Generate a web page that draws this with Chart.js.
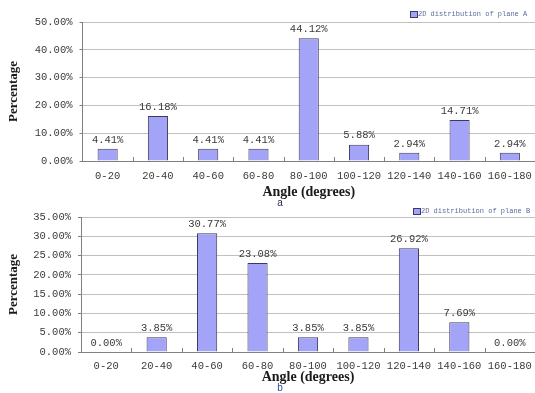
<!DOCTYPE html>
<html>
<head>
<meta charset="utf-8">
<script src="https://cdn.jsdelivr.net/npm/chart.js@4/dist/chart.umd.min.js"></script>
<style>
  html, body { margin: 0; padding: 0; background: #ffffff; }
  #wrap { position: relative; width: 535px; height: 393px; overflow: hidden; }
  canvas { position: absolute; left: 0; }
  #chartA { top: 0; }
  #chartB { top: 200px; }
</style>
</head>
<body>
<div id="wrap">
  <canvas id="chartA" width="535" height="208"></canvas>
  <canvas id="chartB" width="535" height="193"></canvas>
</div>
<script>
// Angle bins shared by both histograms
const categories = ['0-20', '20-40', '40-60', '60-80', '80-100', '100-120', '120-140', '140-160', '160-180'];

// Percentage of joints per angle bin
const planeA = [4.41, 16.18, 4.41, 4.41, 44.12, 5.88, 2.94, 14.71, 2.94];
const planeB = [0.00, 3.85, 30.77, 23.08, 3.85, 3.85, 26.92, 7.69, 0.00];

// Y axis ranges (percent)
const yMaxA = 50, yStepA = 10;
const yMaxB = 35, yStepB = 5;

const legendA = '2D distribution of plane A';
const legendB = '2D distribution of plane B';
const xTitle = 'Angle (degrees)';
const yTitle = 'Percentage';

const monoFont = '"Liberation Mono", "DejaVu Sans Mono", monospace';
const serifFont = '"Liberation Serif", "DejaVu Serif", serif';
const fmt = v => Number(v).toFixed(2) + '%';

// Value labels above each bar
const valueLabels = {
  id: 'valueLabels',
  afterDatasetsDraw(chart) {
    const ctx = chart.ctx;
    const meta = chart.getDatasetMeta(0);
    const data = chart.data.datasets[0].data;
    ctx.save();
    ctx.font = '10.5px ' + monoFont;
    ctx.fillStyle = '#3a3a3a';
    ctx.textAlign = 'center';
    ctx.textBaseline = 'middle';
    meta.data.forEach((bar, i) => {
      ctx.fillText(fmt(data[i]), bar.x, bar.y - 9);
    });
    ctx.restore();
  }
};

// Short marks on the category axis between bins
const binTicks = {
  id: 'binTicks',
  afterDraw(chart) {
    const x = chart.scales.x;
    const ctx = chart.ctx;
    const n = chart.data.labels.length;
    ctx.save();
    ctx.strokeStyle = '#808080';
    ctx.lineWidth = 1;
    ctx.beginPath();
    for (let i = 1; i < n; i++) {
      const px = Math.round((x.getPixelForTick(i - 1) + x.getPixelForTick(i)) / 2) + 0.5;
      ctx.moveTo(px, x.top);
      ctx.lineTo(px, x.top - 4);
    }
    ctx.stroke();
    ctx.restore();
  }
};

// Small legend box at the top right plus the panel letter below the axis
const panelDecor = {
  id: 'panelDecor',
  afterDraw(chart, args, opts) {
    const ctx = chart.ctx;
    const area = chart.chartArea;
    ctx.save();
    const lx = opts.legendX, ly = area.top - opts.legendGap;
    ctx.fillStyle = '#a3a3f7';
    ctx.strokeStyle = '#3a3a6a';
    ctx.lineWidth = 1;
    ctx.fillRect(lx, ly - 3, 7, 6);
    ctx.strokeRect(lx + 0.5, ly - 2.5, 7, 6);
    ctx.font = '7px ' + monoFont;
    ctx.fillStyle = '#5a6a9c';
    ctx.textAlign = 'left';
    ctx.textBaseline = 'middle';
    ctx.fillText(opts.legend, lx + 8, ly + 0.5);
    ctx.font = '10px ' + '"Liberation Sans", Arial, sans-serif';
    ctx.fillStyle = opts.letterColor;
    ctx.textAlign = 'center';
    ctx.fillText(opts.letter, opts.letterX, opts.letterY);
    ctx.restore();
  }
};

function makeChart(id, values, yMax, yStep, cfg) {
  return new Chart(document.getElementById(id), {
    type: 'bar',
    data: {
      labels: categories,
      datasets: [{
        label: cfg.legend,
        data: values,
        backgroundColor: '#a3a3f7',
        borderColor: '#3a3a5e',
        borderWidth: 1,
        barPercentage: 0.4,
        categoryPercentage: 1.0
      }]
    },
    options: {
      responsive: false,
      animation: false,
      devicePixelRatio: 1,
      layout: { padding: { top: cfg.padTop, right: 0, bottom: cfg.padBottom, left: 0 } },
      plugins: {
        legend: { display: false },
        tooltip: { enabled: false },
        title: { display: false },
        panelDecor: {
          legend: cfg.legend,
          legendX: cfg.legendX,
          legendGap: cfg.legendGap,
          letter: cfg.letter,
          letterX: 280,
          letterY: cfg.letterY,
          letterColor: cfg.letterColor
        }
      },
      scales: {
        x: {
          offset: true,
          grid: { display: false, drawTicks: false, tickLength: 0 },
          border: { display: true, color: '#808080', width: 1 },
          ticks: {
            color: '#3a3a3a',
            font: { family: monoFont, size: 10.5 },
            padding: cfg.xTickPad,
            maxRotation: 0,
            autoSkip: false
          },
          title: {
            display: true,
            text: xTitle,
            color: '#1a1a1a',
            font: { family: serifFont, size: 14, weight: 'bold', lineHeight: 1 },
            padding: 0
          },
          afterFit(scale) {
            scale.height = cfg.xHeight;
            scale.paddingLeft = 0;
            scale.paddingRight = 0;
          }
        },
        y: {
          min: 0,
          max: yMax,
          grid: {
            color: '#c0c0c0',
            lineWidth: 1,
            drawTicks: true,
            tickLength: 3,
            tickColor: '#808080'
          },
          border: { display: true, color: '#808080', width: 1 },
          ticks: {
            stepSize: yStep,
            color: '#3a3a3a',
            font: { family: monoFont, size: 10.5 },
            padding: 7,
            callback: v => fmt(v)
          },
          title: {
            display: true,
            text: yTitle,
            color: '#1a1a1a',
            font: { family: serifFont, size: 13, weight: 'bold', lineHeight: 1 },
            padding: { top: 7.5, bottom: 0 }
          },
          afterFit(scale) { scale.width = cfg.yWidth; }
        }
      }
    },
    plugins: [valueLabels, binTicks, panelDecor]
  });
}

makeChart('chartA', planeA, yMaxA, yStepA, {
  legend: legendA, legendX: 410, legendGap: 8,
  letter: 'a', letterY: 203.5, letterColor: '#1c2450',
  padTop: 22, padBottom: 9, xHeight: 38, xTickPad: 9, yWidth: 82.5
});

makeChart('chartB', planeB, yMaxB, yStepB, {
  legend: legendB, legendX: 413, legendGap: 6,
  letter: 'b', letterY: 188.5, letterColor: '#2a4aa0',
  padTop: 17, padBottom: 9, xHeight: 32, xTickPad: 8, yWidth: 81
});
</script>
</body>
</html>
